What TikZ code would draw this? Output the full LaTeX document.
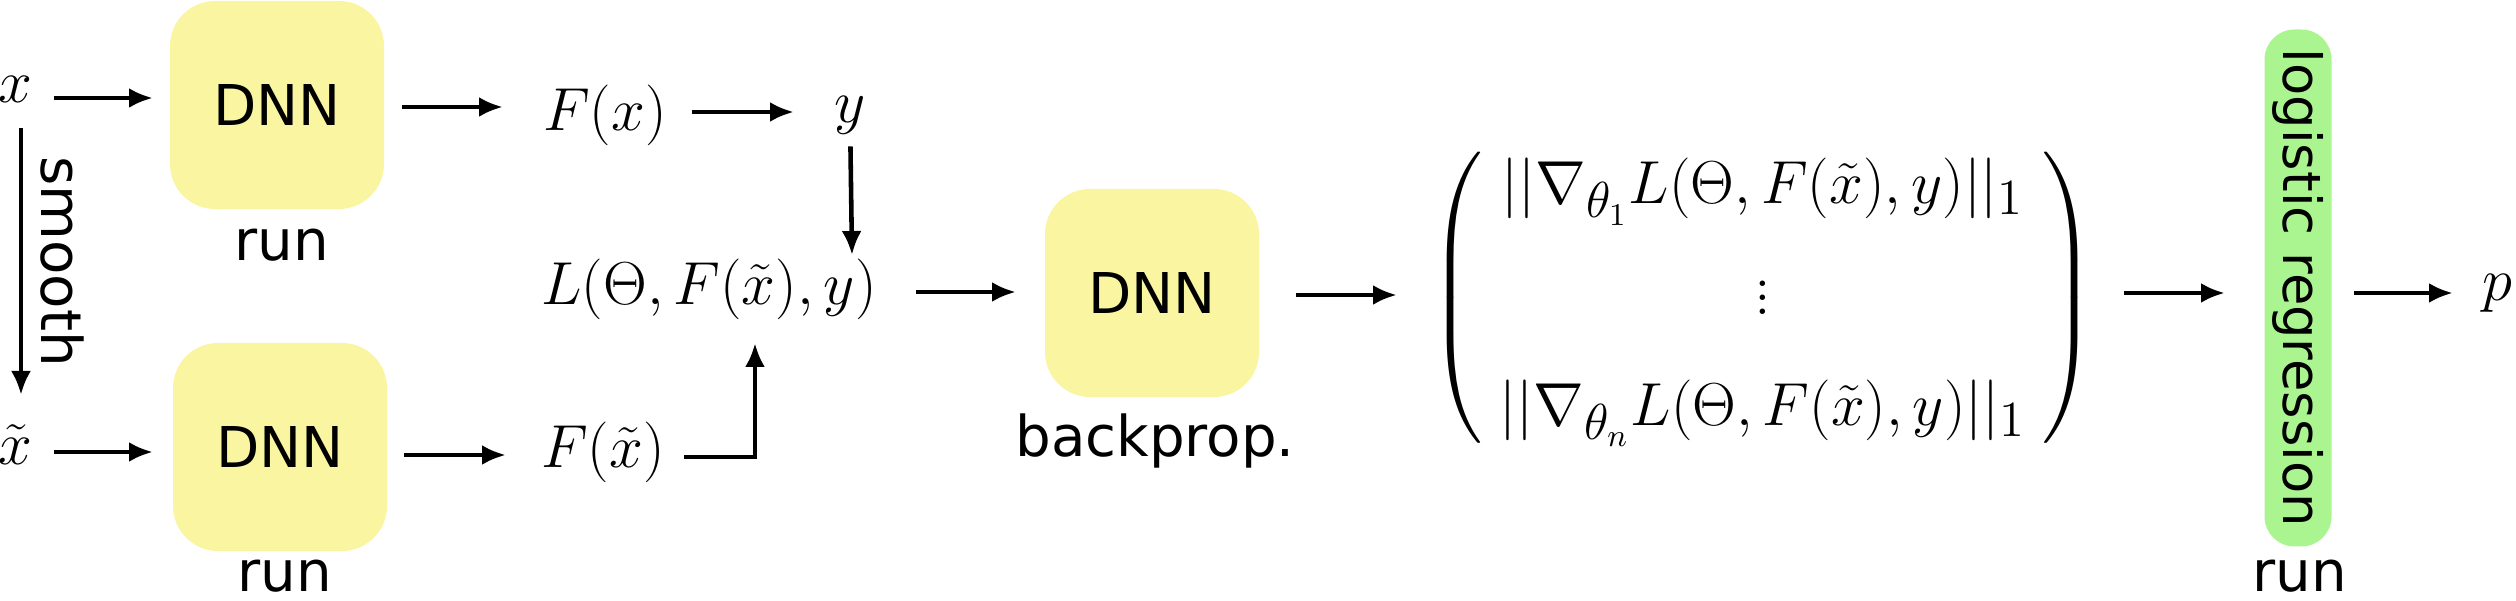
\documentclass[tikz,border=0pt]{standalone}
\usepackage{fontspec}
\usepackage{amsmath}
\setsansfont{DejaVu Sans}
\usetikzlibrary{arrows.meta,positioning}
\definecolor{NetClr}{HTML}{F9F5A0}
\definecolor{RegClr}{HTML}{ABF590}

\tikzset{
  netbox/.style={fill=NetClr,rounded corners=0.45cm,minimum width=2.14cm,minimum height=2.08cm,
    font=\fontsize{16}{19}\sffamily},
  regbox/.style={fill=RegClr,rounded corners=0.3cm,minimum width=5.17cm,minimum height=0.67cm,
    inner sep=0pt,rotate=-90,font=\fontsize{15}{18}\sffamily},
  caption/.style={font=\fontsize{16}{19}\sffamily},
  mathlbl/.style={font=\fontsize{19}{23}\selectfont},
  flow/.style={-{Latex[length=0.24cm,width=0.2cm]},line width=1.3pt},
}

\begin{document}
\begin{tikzpicture}
\useasboundingbox (0,0) rectangle (25.16,-6.01);

% inputs
\node[mathlbl] (in) at (0.15,-0.89) {$x$};
\node[mathlbl] (insm) at (0.15,-4.45) {$\tilde{x}$};

% forward passes
\node[netbox] (run1) at (2.77,-1.05) {DNN};
\node[caption] (run1lbl) at (2.82,-2.45) {run};
\node[netbox] (run2) at (2.80,-4.47) {DNN};
\node[caption] (run2lbl) at (2.85,-5.76) {run};

\node[mathlbl] (fx) at (6.05,-1.15) {$F(x)$};
\node[mathlbl] (lab) at (8.50,-1.15) {$y$};
\node[mathlbl] (fxsm) at (6.03,-4.52) {$F(\tilde{x})$};
\node[mathlbl] (loss) at (7.09,-2.89) {$L(\Theta,F(\tilde{x}),y)$};

% backward pass
\node[netbox] (back) at (11.52,-2.93) {DNN};
\node[caption] (backlbl) at (11.55,-4.41) {backprop.};

\node[mathlbl] (grad) at (17.63,-2.98) {$\left(\;\begin{matrix}
  ||\nabla_{\theta_1}L(\Theta,F(\tilde{x}),y)||_1\\[0.45em]
  \vdots\\[0.45em]
  ||\nabla_{\theta_n}L(\Theta,F(\tilde{x}),y)||_1
\end{matrix}\;\right)$};

% classifier
\node[regbox] (reg) at (22.98,-2.88) {logistic regression};
\node[caption] (reglbl) at (23.00,-5.76) {run};
\node[mathlbl] (out) at (24.97,-2.93) {$p$};

\draw[flow] (0.21,-1.28) -- node[caption,rotate=-90,right=0.06cm,anchor=south] {smooth} (0.21,-3.95);
\draw[flow] (0.54,-0.98) -- (1.53,-0.98);
\draw[flow] (0.54,-4.52) -- (1.53,-4.52);
\draw[flow] (4.02,-1.07) -- (5.03,-1.07);
\draw[flow] (4.04,-4.55) -- (5.06,-4.55);
\draw[flow] (6.92,-1.12) -- (7.94,-1.12);
\draw[flow] (lab) -- (8.52,-2.55);
\draw[flow] (6.84,-4.57) -| (7.55,-3.43);
\draw[flow] (9.16,-2.92) -- (10.16,-2.92);
\draw[flow] (12.96,-2.95) -- (13.97,-2.95);
\draw[flow] (21.24,-2.93) -- (22.25,-2.93);
\draw[flow] (23.54,-2.93) -- (24.53,-2.93);
\end{tikzpicture}
\end{document}
